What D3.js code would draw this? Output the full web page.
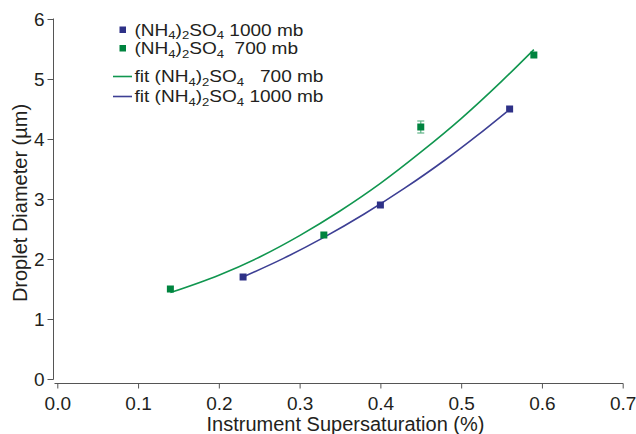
<!DOCTYPE html>
<html>
<head>
<meta charset="utf-8">
<script src="https://cdn.jsdelivr.net/npm/d3@7"></script>
<style>
  html, body { margin: 0; padding: 0; background: #fff; }
  svg { display: block; font-family: "Liberation Sans", Arial, sans-serif; }
  text { fill: #231f20; }
</style>
</head>
<body>
<svg id="chart" width="636" height="434"></svg>
<script>
// Measured droplet diameters (µm) vs. instrument supersaturation (%)
const ss700 = [0.14, 0.33, 0.45, 0.59];
const dia700 = [1.5, 2.4, 4.2, 5.4];
const err700 = [0, 0, 0.1, 0];

const ss1000 = [0.23, 0.40, 0.56];
const dia1000 = [1.7, 2.9, 4.5];

// Fitted curves, sampled along supersaturation
const fitSs700 = [0.14, 0.20, 0.25, 0.30, 0.35, 0.40, 0.45, 0.50, 0.55, 0.59];
const fitDia700 = [1.44, 1.73, 2.03, 2.39, 2.80, 3.26, 3.78, 4.34, 4.96, 5.49];

const fitSs1000 = [0.23, 0.28, 0.33, 0.38, 0.43, 0.48, 0.52, 0.556];
const fitDia1000 = [1.70, 2.01, 2.36, 2.75, 3.18, 3.65, 4.06, 4.45];

const xTicks = [0.0, 0.1, 0.2, 0.3, 0.4, 0.5, 0.6, 0.7];
const yTicks = [0, 1, 2, 3, 4, 5, 6];

const BLUE = "#2e3187";
const BLUE_LINE = "#3d3f94";
const GREEN = "#00843f";
const GREEN_LINE = "#10964f";
const AXIS = "#555555";
const FONT = "'Liberation Sans', Arial, sans-serif";

const svg = d3.select("#chart");

const x = d3.scaleLinear().domain([0, 0.7]).range([57.3, 622.7]);
const y = d3.scaleLinear().domain([0, 6]).range([379, 19]);

// Y axis
const yAxis = svg.append("g")
  .attr("transform", "translate(53.5,0)")
  .call(d3.axisLeft(y).tickValues(yTicks).tickFormat(d3.format("d"))
    .tickSize(6).tickSizeOuter(0).tickPadding(3));
yAxis.select(".domain").attr("stroke", AXIS).attr("d", `M0,${y(6) - 0.5}V${y(0) + 0.5}`);
yAxis.selectAll(".tick line").attr("stroke", AXIS);
yAxis.selectAll(".tick text").attr("font-size", 19).attr("fill", "#231f20")
  .attr("font-family", FONT);

// X axis
const xAxis = svg.append("g")
  .attr("transform", "translate(0,383.5)")
  .call(d3.axisBottom(x).tickValues(xTicks).tickFormat(d3.format(".1f"))
    .tickSize(5).tickSizeOuter(0).tickPadding(8));
xAxis.select(".domain").attr("stroke", AXIS).attr("d", `M54.5,0H${x(0.7) + 0.5}`);
xAxis.selectAll(".tick line").attr("stroke", AXIS);
xAxis.selectAll(".tick text").attr("font-size", 19).attr("fill", "#231f20")
  .attr("font-family", FONT);

// Axis titles
svg.append("text")
  .attr("x", 345.5).attr("y", 431)
  .attr("text-anchor", "middle")
  .attr("font-size", 20)
  .text("Instrument Supersaturation (%)");

svg.append("text")
  .attr("transform", "translate(27,203) rotate(-90)")
  .attr("text-anchor", "middle")
  .attr("font-size", 20)
  .text("Droplet Diameter (\u00b5m)");

// Fit curves
const line = d3.line().x(d => x(d[0])).y(d => y(d[1])).curve(d3.curveMonotoneX);

svg.append("path")
  .datum(d3.zip(fitSs700, fitDia700))
  .attr("d", line)
  .attr("fill", "none")
  .attr("stroke", GREEN_LINE)
  .attr("stroke-width", 1.6);

svg.append("path")
  .datum(d3.zip(fitSs1000, fitDia1000))
  .attr("d", line)
  .attr("fill", "none")
  .attr("stroke", BLUE_LINE)
  .attr("stroke-width", 1.6);

// Error bars (700 mb)
const errData = d3.zip(ss700, dia700, err700).filter(d => d[2] > 0);
const eb = svg.append("g").attr("stroke", "#5fb487").attr("stroke-width", 1.2);
errData.forEach(d => {
  const cx = x(d[0]);
  eb.append("line").attr("x1", cx).attr("x2", cx).attr("y1", y(d[1] + d[2])).attr("y2", y(d[1] - d[2]));
  eb.append("line").attr("x1", cx - 3.5).attr("x2", cx + 3.5).attr("y1", y(d[1] + d[2])).attr("y2", y(d[1] + d[2]));
  eb.append("line").attr("x1", cx - 3.5).attr("x2", cx + 3.5).attr("y1", y(d[1] - d[2])).attr("y2", y(d[1] - d[2]));
});

// Markers
const MS = 7;
svg.append("g").selectAll("rect")
  .data(d3.zip(ss700, dia700))
  .join("rect")
  .attr("x", d => x(d[0]) - MS / 2)
  .attr("y", d => y(d[1]) - MS / 2)
  .attr("width", MS).attr("height", MS)
  .attr("fill", GREEN);

svg.append("g").selectAll("rect")
  .data(d3.zip(ss1000, dia1000))
  .join("rect")
  .attr("x", d => x(d[0]) - MS / 2)
  .attr("y", d => y(d[1]) - MS / 2)
  .attr("width", MS).attr("height", MS)
  .attr("fill", BLUE);

// Legend (slightly widened lettering)
const legend = svg.append("g").attr("font-size", 16);

function formulaLabel(g, tx, ty, prefix, suffix) {
  const t = g.append("text")
    .attr("transform", `translate(${tx},${ty}) scale(1.19,1)`)
    .attr("xml:space", "preserve")
    .style("white-space", "pre");
  t.append("tspan").text(prefix + "(NH");
  t.append("tspan").attr("font-size", 11).attr("dy", 3.5).text("4");
  t.append("tspan").attr("dy", -3.5).text(")");
  t.append("tspan").attr("font-size", 11).attr("dy", 3.5).text("2");
  t.append("tspan").attr("dy", -3.5).text("SO");
  t.append("tspan").attr("font-size", 11).attr("dy", 3.5).text("4");
  t.append("tspan").attr("dy", -3.5).text(suffix);
}

const legendRows = [
  { kind: "marker", color: BLUE, y: 30, prefix: "", suffix: " 1000 mb" },
  { kind: "marker", color: GREEN, y: 48.5, prefix: "", suffix: "  700 mb" },
  { kind: "line", color: GREEN_LINE, y: 76.5, prefix: "fit ", suffix: "   700 mb" },
  { kind: "line", color: BLUE_LINE, y: 96.5, prefix: "fit ", suffix: " 1000 mb" }
];

legendRows.forEach(r => {
  if (r.kind === "marker") {
    legend.append("rect").attr("x", 119.5).attr("y", r.y - 3.5).attr("width", 6.5).attr("height", 6.5).attr("fill", r.color);
  } else {
    legend.append("line").attr("x1", 113).attr("x2", 132).attr("y1", r.y).attr("y2", r.y)
      .attr("stroke", r.color).attr("stroke-width", 1.6);
  }
  formulaLabel(legend, 134.5, r.y + 5.7, r.prefix, r.suffix);
});
</script>
</body>
</html>
